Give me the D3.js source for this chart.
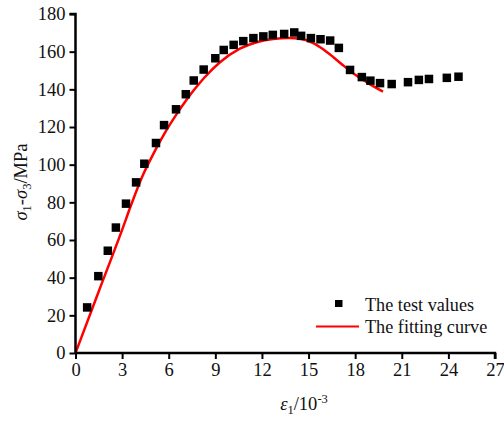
<!DOCTYPE html>
<html>
<head>
<meta charset="utf-8">
<script src="https://cdn.jsdelivr.net/npm/d3@7"></script>
<style>
  body { margin: 0; background: #fff; }
  svg text { font-family: "Liberation Serif", "Times New Roman", Times, serif; fill: #111; }
</style>
</head>
<body>
<svg width="504" height="421"></svg>
<script>
// test values (strain 10^-3, deviatoric stress MPa)
var testStrain = [0.75, 1.47, 2.08, 2.6, 3.25, 3.9, 4.43, 5.18, 5.7, 6.47, 7.1, 7.61, 8.25, 9.0, 9.54, 10.18, 10.8, 11.45, 12.09, 12.7, 13.43, 14.08, 14.52, 15.15, 15.77, 16.39, 16.95, 17.67, 18.43, 18.98, 19.6, 20.35, 21.4, 22.1, 22.75, 23.9, 24.65];
var testStress = [24.2, 40.8, 54.3, 66.6, 79.3, 90.6, 100.5, 111.5, 121, 129.4, 137.4, 144.7, 150.5, 156.5, 160.9, 163.6, 165.6, 167.2, 168.1, 168.9, 169.4, 170.2, 168.4, 167.2, 166.6, 165.9, 162, 150.3, 146.5, 144.6, 143.3, 142.8, 143.8, 145, 145.5, 146.1, 146.7];

// fitting curve
var fitStrain = [0, 1.5, 3.0, 3.62, 4.37, 4.8, 5.23, 5.66, 6.09, 6.52, 7.16, 7.7, 8.3, 9.3, 10.58, 11.66, 12.72, 13.8, 14.44, 15.3, 15.94, 16.58, 17.22, 18.08, 18.94, 19.79];
var fitStress = [0, 32.8, 65.4, 79.5, 95, 102.3, 109.2, 115.6, 121.5, 127, 134.6, 140.4, 146.3, 154.4, 161.6, 165, 166.7, 167.2, 166.8, 164.6, 161.3, 157.2, 152.8, 147.3, 142.8, 138.8];

var xTicks = [0, 3, 6, 9, 12, 15, 18, 21, 24, 27];
var yTicks = [0, 20, 40, 60, 80, 100, 120, 140, 160, 180];
var legendLabels = ["The test values", "The fitting curve"];

var svg = d3.select('svg');

var xScale = d3.scaleLinear().domain([0, 27]).range([75.5, 495]);
var yScale = d3.scaleLinear().domain([0, 180]).range([353, 14]);

// fitting curve
var line = d3.line()
    .x(function(d) { return xScale(d[0]); })
    .y(function(d) { return yScale(d[1]); })
    .curve(d3.curveMonotoneX);

svg.append("path")
    .datum(d3.zip(fitStrain, fitStress))
    .attr("d", line)
    .attr("fill", "none")
    .attr("stroke", "#f00")
    .attr("stroke-width", 2.5);

// test points
var sq = 8.5;
svg.selectAll("rect.pt")
    .data(d3.zip(testStrain, testStress))
    .enter()
    .append("rect")
    .attr("class", "pt")
    .attr("x", function(d) { return xScale(d[0]) - sq / 2; })
    .attr("y", function(d) { return yScale(d[1]) - sq / 2; })
    .attr("width", sq)
    .attr("height", sq)
    .attr("fill", "#000");

// axes
var xAxis = svg.append("g")
    .attr("transform", "translate(0," + yScale(0) + ")")
    .call(d3.axisBottom(xScale).tickValues(xTicks).tickSize(6).tickPadding(4));
var yAxis = svg.append("g")
    .attr("transform", "translate(" + xScale(0) + ",0)")
    .call(d3.axisLeft(yScale).tickValues(yTicks).tickSize(6).tickPadding(4));

[xAxis, yAxis].forEach(function(ax) {
    ax.attr("font-family", "Liberation Serif").attr("font-size", 18.5);
    ax.select(".domain").attr("stroke", "#000").attr("stroke-width", 2.5);
    ax.selectAll(".tick line").attr("stroke", "#000").attr("stroke-width", 2);
    ax.selectAll(".tick text").attr("fill", "#111");
});
xAxis.select(".domain").attr("d", "M" + xScale(0) + ",0H" + xScale(27) + "V6");
yAxis.select(".domain").attr("d", "M-6," + yScale(180) + "H0V" + yScale(0));

// x title
var xt = svg.append("text")
    .attr("x", 304)
    .attr("y", 410)
    .attr("text-anchor", "middle")
    .attr("font-size", 18.5);
xt.append("tspan").attr("font-style", "italic").text("ε");
xt.append("tspan").attr("dy", 4).attr("font-size", 12.5).text("1");
xt.append("tspan").attr("dy", -4).text("/10");
xt.append("tspan").attr("dy", -7).attr("font-size", 12.5).text("-3");

// y title
var yt = svg.append("text")
    .attr("transform", "translate(27,182) rotate(-90)")
    .attr("text-anchor", "middle")
    .attr("font-size", 18.5);
yt.append("tspan").attr("font-style", "italic").text("σ");
yt.append("tspan").attr("dy", 4).attr("font-size", 12.5).text("1");
yt.append("tspan").attr("dy", -4).text("-");
yt.append("tspan").attr("font-style", "italic").text("σ");
yt.append("tspan").attr("dy", 4).attr("font-size", 12.5).text("3");
yt.append("tspan").attr("dy", -4).text("/MPa");

// legend
var lg = svg.append("g");
lg.append("rect")
    .attr("x", 335).attr("y", 300)
    .attr("width", 7.5).attr("height", 7)
    .attr("fill", "#000");
lg.append("line")
    .attr("x1", 316).attr("x2", 359)
    .attr("y1", 326.5).attr("y2", 326.5)
    .attr("stroke", "#f00").attr("stroke-width", 2);
lg.selectAll("text")
    .data(legendLabels)
    .enter()
    .append("text")
    .attr("x", 365)
    .attr("y", function(d, i) { return 310.5 + i * 22.5; })
    .attr("font-size", 18.2)
    .text(function(d) { return d; });
</script>
</body>
</html>
